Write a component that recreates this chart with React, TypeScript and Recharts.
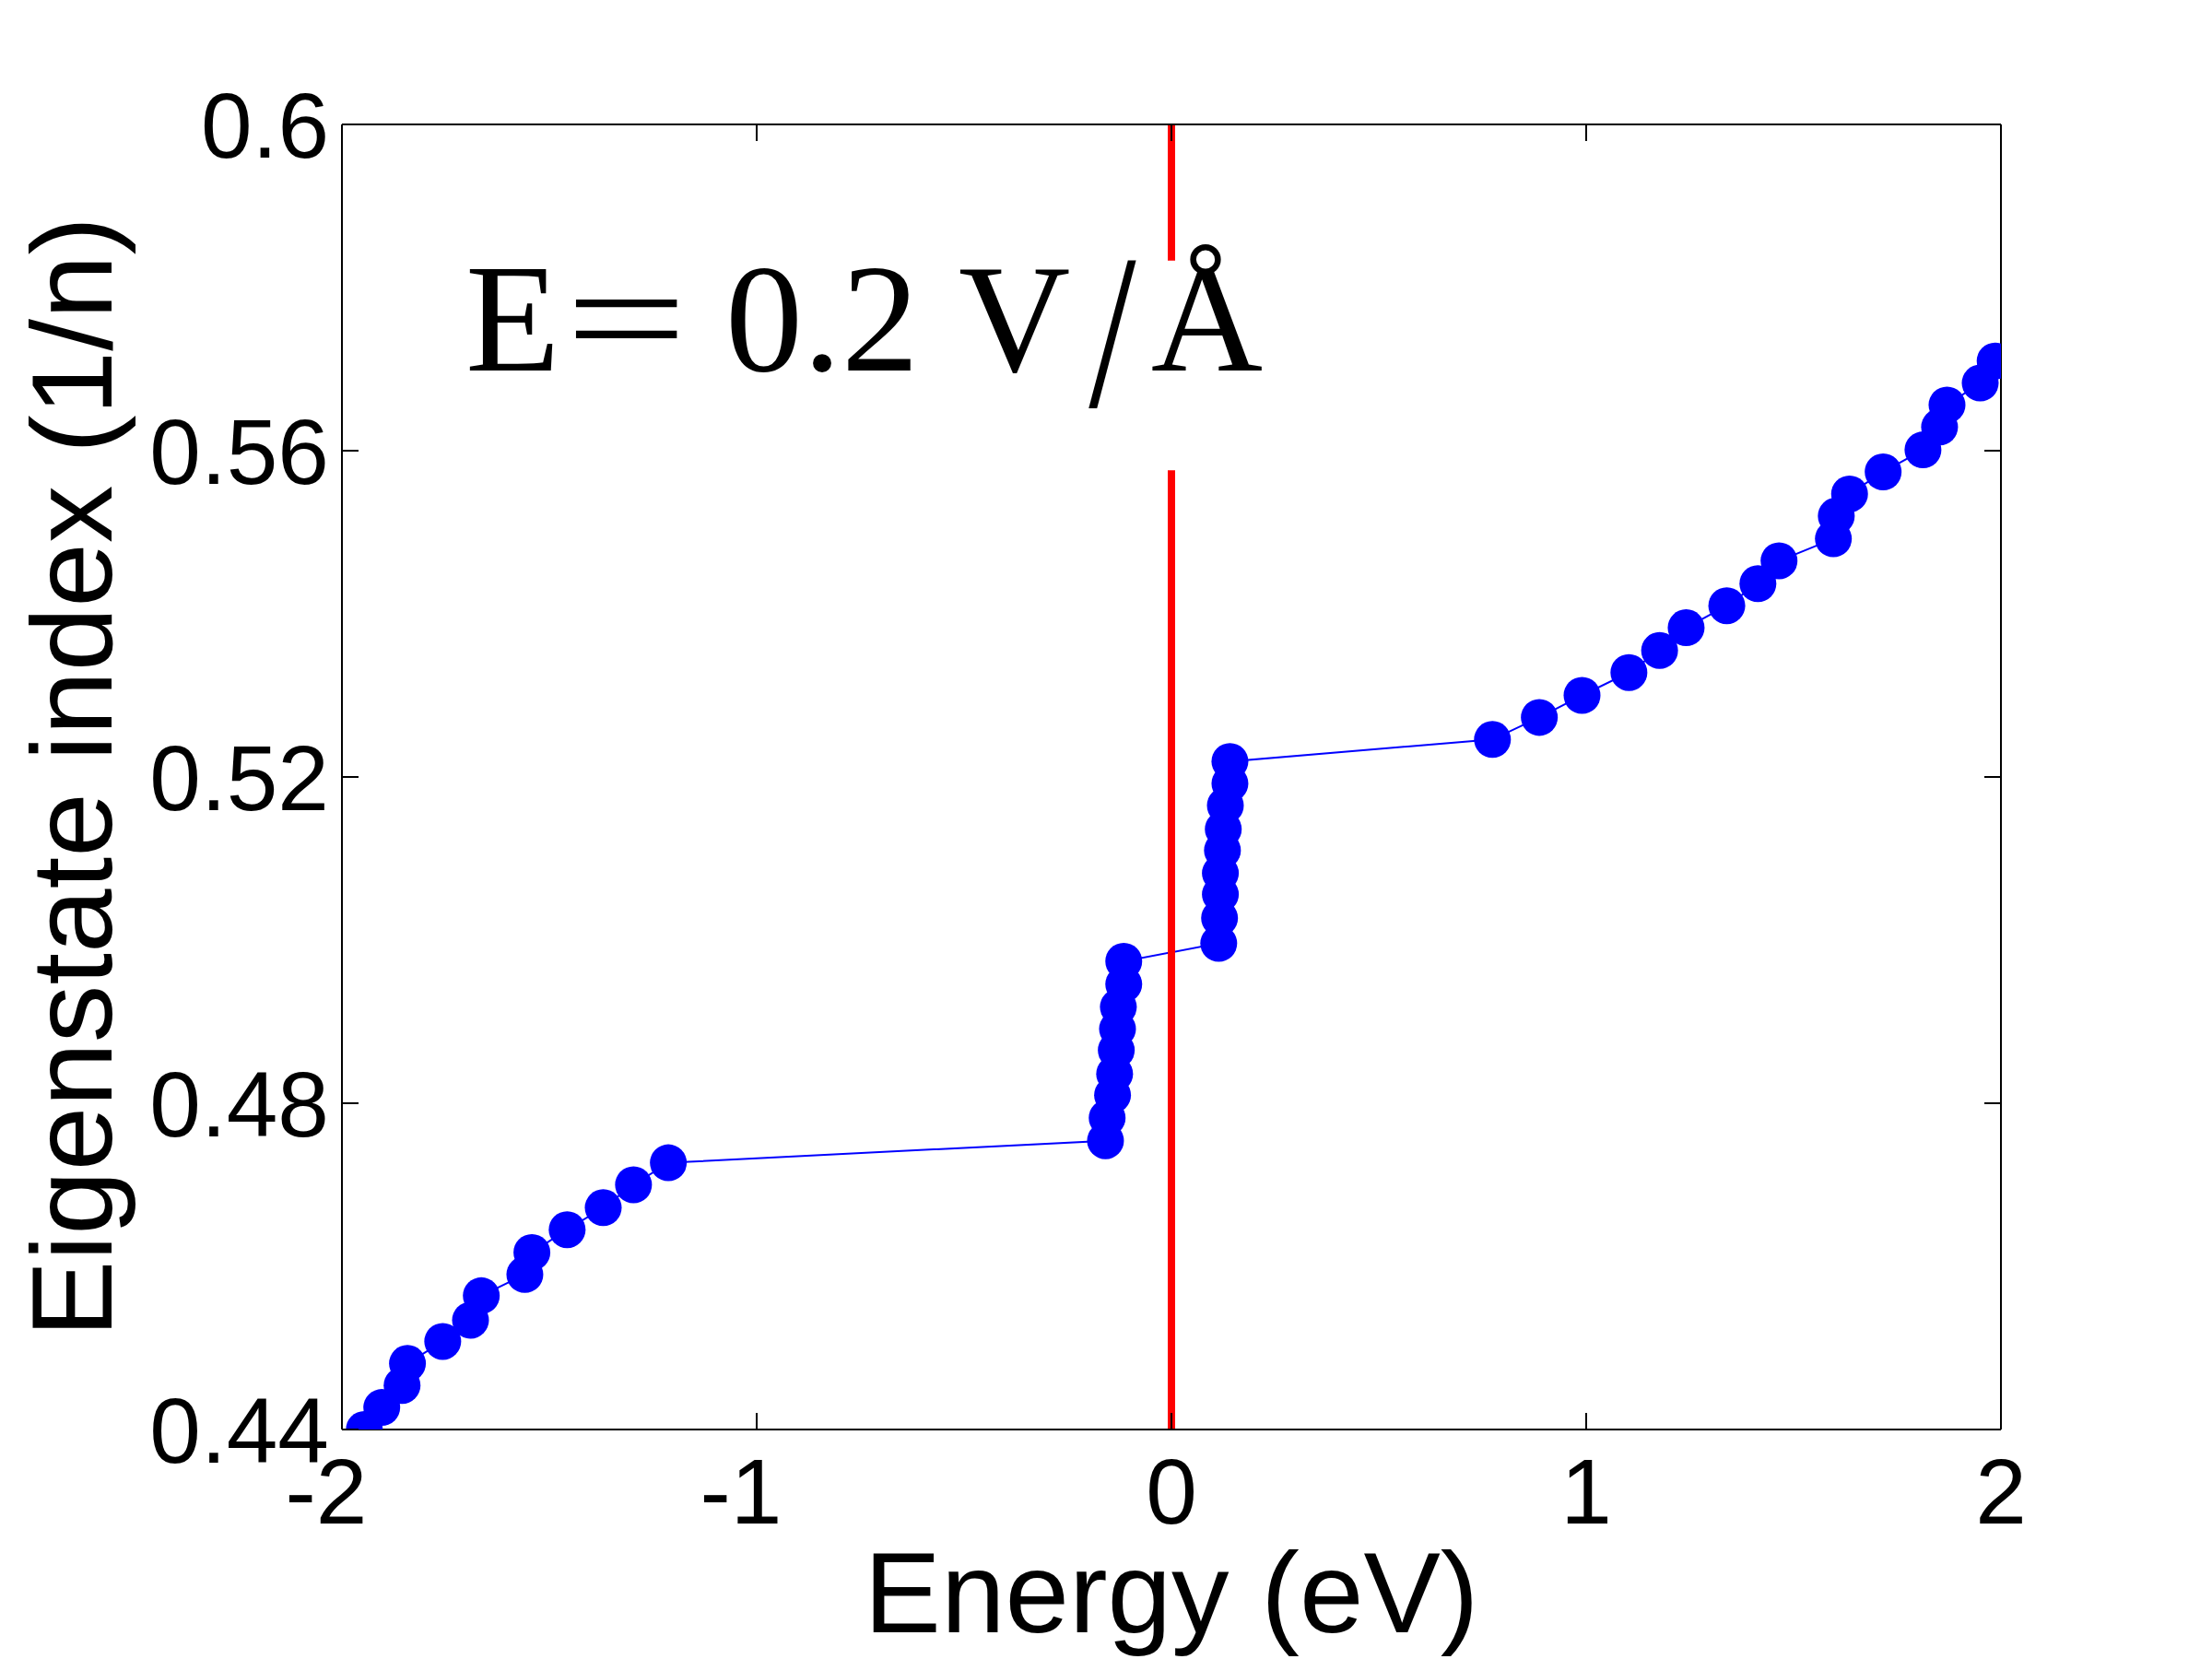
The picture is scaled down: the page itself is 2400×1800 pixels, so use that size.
import React from 'react';
import { ComposedChart, Line, XAxis, YAxis, ReferenceLine } from 'recharts';

// Energies (eV) and eigenstate indices (1/n), in eigenstate order
const bulkLowE = [-1.946, -1.904, -1.855, -1.842, -1.757, -1.690, -1.664, -1.559, -1.542, -1.457, -1.370, -1.297, -1.213];
const bulkLowN = [0.4400, 0.4427, 0.4454, 0.4481, 0.4508, 0.4534, 0.4564, 0.4590, 0.4617, 0.4645, 0.4672, 0.4700, 0.4727];
const edgeLowE = [-0.159, -0.155, -0.142, -0.137, -0.133, -0.130, -0.128, -0.115, -0.115];
const edgeLowN = [0.4754, 0.4782, 0.4810, 0.4836, 0.4865, 0.4891, 0.4918, 0.4946, 0.4974];
const edgeHighE = [0.114, 0.116, 0.118, 0.118, 0.123, 0.125, 0.130, 0.141, 0.141];
const edgeHighN = [0.4996, 0.5027, 0.5056, 0.5082, 0.5110, 0.5136, 0.5165, 0.5192, 0.5219];
const bulkHighE = [0.774, 0.887, 0.990, 1.103, 1.177, 1.241, 1.339, 1.414, 1.465, 1.596, 1.603, 1.635, 1.716, 1.812, 1.852, 1.870, 1.950, 1.986];
const bulkHighN = [0.5246, 0.5273, 0.5300, 0.5328, 0.5355, 0.5383, 0.5410, 0.5437, 0.5465, 0.5492, 0.5520, 0.5547, 0.5574, 0.5601, 0.5629, 0.5656, 0.5683, 0.5710];

const xTicks = [-2, -1, 0, 1, 2];
const yTicks = [0.44, 0.48, 0.52, 0.56, 0.6];
const xDomain = [-2, 2];
const yDomain = [0.44, 0.6];
const fermiLevel = 0;
const gapLow = 0.5576;
const gapHigh = 0.5833;

const energies = [...bulkLowE, ...edgeLowE, ...edgeHighE, ...bulkHighE];
const indices = [...bulkLowN, ...edgeLowN, ...edgeHighN, ...bulkHighN];
const data = energies.map((e, i) => ({ e, n: indices[i] }));

const SANS = '"Liberation Sans", Arial, sans-serif';
const SERIF = '"Liberation Serif", "Times New Roman", serif';
const TICK = 18;
const W = 2392;
const H = 1792;

const BottomTick = (props: any) => {
  const { x, y, payload } = props;
  const v = payload.value;
  return (
    <g>
      <line x1={x} x2={x} y1={y} y2={y - TICK} stroke="#000" strokeWidth={2} />
      <text x={x - (v < 0 ? 17 : 0)} y={y + 102} textAnchor="middle" fontFamily={SANS} fontSize={100} fill="#000">
        {String(v)}
      </text>
    </g>
  );
};

const TopTick = (props: any) => {
  const { x, y } = props;
  return <line x1={x} x2={x} y1={y} y2={y + TICK} stroke="#000" strokeWidth={2} />;
};

const LeftTick = (props: any) => {
  const { x, y, payload } = props;
  return (
    <g>
      <line x1={x} x2={x + TICK} y1={y} y2={y} stroke="#000" strokeWidth={2} />
      <text x={x - 14} y={y + 36} textAnchor="end" fontFamily={SANS} fontSize={100} fill="#000">
        {String(payload.value)}
      </text>
    </g>
  );
};

const RightTick = (props: any) => {
  const { x, y } = props;
  return <line x1={x} x2={x - TICK} y1={y} y2={y} stroke="#000" strokeWidth={2} />;
};

const Dot = (props: any) => {
  const { cx, cy, index } = props;
  if (cx == null || cy == null) return <g key={`d${index}`} />;
  return <circle key={`d${index}`} cx={cx} cy={cy} r={20} fill="#0000FF" stroke="none" />;
};

const XTitle = (props: any) => {
  const vb = props.viewBox || {};
  return (
    <text x={vb.x + vb.width / 2} y={vb.y + 220} textAnchor="middle" fontFamily={SANS} fontSize={125} fill="#000">
      Energy (eV)
    </text>
  );
};

const YTitle = (props: any) => {
  const vb = props.viewBox || {};
  const cx = 113;
  const cy = vb.y + vb.height / 2;
  return (
    <text x={cx} y={cy} transform={`rotate(-90, ${cx}, ${cy})`} textAnchor="middle" fontFamily={SANS} fontSize={125} fill="#000">
      Eigenstate index (1/n)
    </text>
  );
};

export default function App() {
  return (
    <div style={{ position: 'relative', width: W, height: H }}>
      <ComposedChart width={W} height={H} data={data} margin={{ top: 126, right: 228, bottom: 0, left: 0 }}>
        <XAxis
          dataKey="e"
          type="number"
          domain={xDomain}
          ticks={xTicks}
          interval={0}
          allowDataOverflow
          height={249}
          tickSize={0}
          tickMargin={0}
          tickLine={false}
          axisLine={{ stroke: '#000', strokeWidth: 2 }}
          tick={<BottomTick />}
          label={<XTitle />}
        />
        <XAxis
          xAxisId="top"
          dataKey="e"
          orientation="top"
          type="number"
          domain={xDomain}
          ticks={xTicks}
          interval={0}
          allowDataOverflow
          height={1}
          tickSize={0}
          tickMargin={0}
          tickLine={false}
          axisLine={{ stroke: '#000', strokeWidth: 2 }}
          tick={<TopTick />}
        />
        <YAxis
          type="number"
          domain={yDomain}
          ticks={yTicks}
          interval={0}
          allowDataOverflow
          width={363}
          tickSize={0}
          tickMargin={0}
          tickLine={false}
          axisLine={{ stroke: '#000', strokeWidth: 2 }}
          tick={<LeftTick />}
          label={<YTitle />}
        />
        <YAxis
          yAxisId="right"
          orientation="right"
          type="number"
          domain={yDomain}
          ticks={yTicks}
          interval={0}
          allowDataOverflow
          width={1}
          tickSize={0}
          tickMargin={0}
          tickLine={false}
          axisLine={{ stroke: '#000', strokeWidth: 2 }}
          tick={<RightTick />}
        />
        <Line
          dataKey="n"
          type="linear"
          stroke="#0000FF"
          strokeWidth={2}
          dot={Dot}
          activeDot={false}
          isAnimationActive={false}
        />
        <ReferenceLine
          segment={[{ x: fermiLevel, y: yDomain[0] }, { x: fermiLevel, y: gapLow }]}
          stroke="#FF0000"
          strokeWidth={8}
          ifOverflow="visible"
        />
        <ReferenceLine
          segment={[{ x: fermiLevel, y: gapHigh }, { x: fermiLevel, y: yDomain[1] }]}
          stroke="#FF0000"
          strokeWidth={8}
          ifOverflow="visible"
        />
      </ComposedChart>
      <svg width={W} height={H} style={{ position: 'absolute', left: 0, top: 0, pointerEvents: 'none' }}>
        <g fontFamily={SERIF} fill="#000">
          <text x={497} y={394} fontSize={168}>E</text>
          <text transform="translate(671.5, 394) scale(1.4, 1)" x={0} y={0} fontSize={168} textAnchor="middle">=</text>
          <text x={779} y={394} fontSize={168}>0.2</text>
          <text x={1032} y={394} fontSize={168}>V</text>
          <text transform="translate(1199, 433) scale(1.1, 1.42)" x={0} y={0} fontSize={168} textAnchor="middle" fontWeight={300}>/</text>
          <text x={1301.5} y={394} fontSize={168} textAnchor="middle">Å</text>
        </g>
      </svg>
    </div>
  );
}
